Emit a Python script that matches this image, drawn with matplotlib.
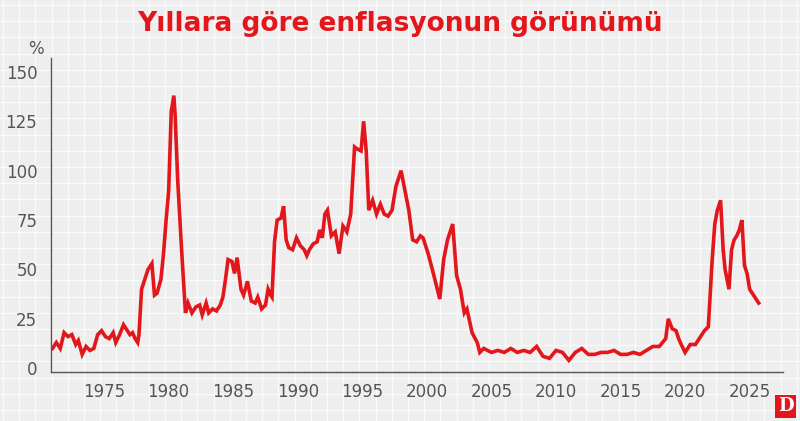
import matplotlib.pyplot as plt
import numpy as np

years = [1971.0, 1971.3, 1971.6, 1971.9, 1972.2, 1972.5, 1972.8, 1973.0, 1973.3, 1973.6,
         1973.9, 1974.2, 1974.5, 1974.8, 1975.1, 1975.4, 1975.7, 1975.9, 1976.2, 1976.5,
         1976.8, 1977.0, 1977.2, 1977.4, 1977.6, 1977.7, 1977.9, 1978.1, 1978.4, 1978.7,
         1978.9, 1979.1, 1979.4, 1979.6, 1979.8, 1980.0, 1980.2, 1980.4, 1980.5, 1980.7,
         1981.0, 1981.3, 1981.5, 1981.8, 1982.1, 1982.4, 1982.6, 1982.9, 1983.1, 1983.4,
         1983.7, 1984.0, 1984.2, 1984.4, 1984.6, 1984.9, 1985.1, 1985.3, 1985.6, 1985.8,
         1986.1, 1986.4, 1986.7, 1986.9, 1987.2, 1987.5, 1987.7, 1987.9, 1988.0, 1988.2,
         1988.4, 1988.7, 1988.9, 1989.1, 1989.3, 1989.6, 1989.9, 1990.2, 1990.5, 1990.7,
         1990.9, 1991.2, 1991.5, 1991.7, 1991.9, 1992.1, 1992.3, 1992.6, 1992.9, 1993.2,
         1993.5, 1993.8, 1994.1, 1994.4, 1994.6, 1994.9, 1995.1, 1995.3, 1995.5, 1995.8,
         1996.1, 1996.4, 1996.7, 1997.0, 1997.3, 1997.6, 1998.0, 1998.3, 1998.6, 1998.9,
         1999.2, 1999.5, 1999.7, 2000.1, 2000.5, 2001.0, 2001.3, 2001.6, 2002.0, 2002.3,
         2002.6, 2002.9, 2003.1, 2003.5, 2003.9, 2004.1, 2004.4, 2004.7, 2005.0,
         2005.5, 2006.0, 2006.5, 2007.0, 2007.5, 2008.0, 2008.5, 2009.0, 2009.5, 2010.0,
         2010.5, 2011.0, 2011.5, 2012.0, 2012.5, 2013.0, 2013.5, 2014.0, 2014.5, 2015.0,
         2015.5, 2016.0, 2016.5, 2017.0, 2017.5, 2018.0, 2018.5, 2018.7, 2019.0, 2019.3,
         2019.5, 2019.7, 2020.0, 2020.4, 2020.8, 2021.2, 2021.5, 2021.8, 2022.1, 2022.3,
         2022.5, 2022.75, 2022.95, 2023.1, 2023.4, 2023.6, 2023.8, 2024.0, 2024.2, 2024.4,
         2024.6, 2024.8, 2025.0, 2025.3, 2025.7]
inflation = [10, 13, 10, 18, 16, 17, 12, 14, 7, 11,
             9, 10, 17, 19, 16, 15, 18, 13, 17, 22,
             19, 17, 18, 15, 13, 17, 40, 44, 50, 53,
             37, 38, 45, 58, 75, 90, 130, 138, 128, 95,
             60, 28, 33, 28, 31, 32, 27, 33, 28, 30,
             29, 32, 36, 45, 55, 54, 48, 56, 40, 37,
             44, 34, 33, 36, 30, 32, 40, 37, 36, 64,
             75, 76, 82, 65, 61, 60, 66, 62, 60, 57,
             60, 63, 64, 70, 66, 78, 80, 67, 69, 58,
             72, 69, 78, 112, 111, 110, 125, 110, 80, 85,
             78, 83, 78, 77, 80, 92, 100, 90, 80, 65,
             64, 67, 66, 58, 48, 35, 55, 65, 73, 47,
             40, 28, 30, 18, 13, 8, 10, 9, 8,
             9, 8, 10, 8, 9, 8, 11, 6, 5, 9,
             8, 4, 8, 10, 7, 7, 8, 8, 9, 7,
             7, 8, 7, 9, 11, 11, 15, 25, 20, 19,
             15, 12, 8, 12, 12, 16, 19, 21, 55, 73,
             80, 85, 60, 50, 40, 60, 65, 67, 70, 75,
             52, 48, 40, 37, 33]
xticks = [1975, 1980, 1985, 1990, 1995, 2000, 2005, 2010, 2015, 2020, 2025]
yticks = [0, 25, 50, 75, 100, 125, 150]

bg = '#eeeeee'
red = '#e3161b'
fig = plt.figure(figsize=(8, 4.21), dpi=100, facecolor=bg)

# background grid over the whole figure
grid = fig.add_axes([0, 0, 1, 1], zorder=0)
grid.set_facecolor(bg)
grid.set_xlim(0, 800)
grid.set_ylim(421, 0)
for gx in np.arange(3, 800, 16.2):
    grid.axvline(gx, color='#fafafa', lw=0.9)
for gy in np.arange(5, 421, 16.2):
    grid.axhline(gy, color='#fafafa', lw=0.9)
grid.axis('off')

ax = fig.add_axes([0.064, 0.116, 0.915, 0.746], zorder=1)
ax.patch.set_alpha(0)
ax.plot(years, inflation, color=red, lw=2.6, solid_joinstyle='miter')
ax.set_xlim(1970.9, 2027.6)
ax.set_ylim(-2, 157)
ax.set_xticks(xticks)
ax.set_yticks(yticks)
ax.tick_params(length=0, labelsize=12, colors='#555555', pad=8)
ax.tick_params(axis='y', pad=10)
for s in ['top', 'right']:
    ax.spines[s].set_visible(False)
for s in ['left', 'bottom']:
    ax.spines[s].set_color('#555555')
    ax.spines[s].set_linewidth(1)
ax.text(-0.01, 1.0, '%', transform=ax.transAxes, ha='right', va='bottom',
        fontsize=12, color='#555555')

fig.text(0.5, 0.975, 'Yıllara göre enflasyonun görünümü', ha='center', va='top',
         fontsize=19, fontweight='bold', color=red)

# logo
fig.text(0.982, 0.035, 'D', ha='center', va='center', fontsize=13, fontweight='bold',
         color='white', family='DejaVu Serif',
         bbox=dict(boxstyle='square,pad=0.15', fc=red, ec='none'))

fig.savefig('out.png', dpi=100, facecolor=bg)
